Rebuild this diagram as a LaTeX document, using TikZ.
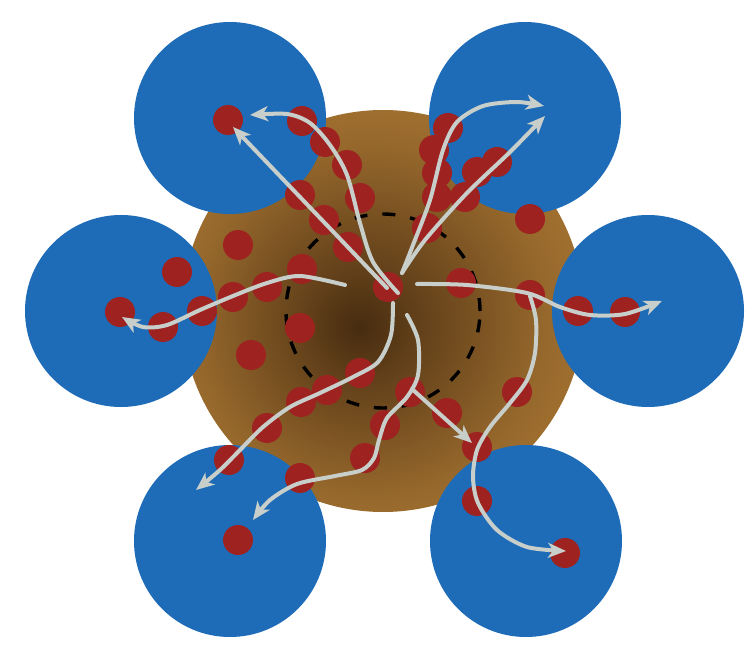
\documentclass[tikz,border=0pt]{standalone}
\usepackage{tikz}
\usetikzlibrary{arrows.meta}
\definecolor{poreblue}{RGB}{30,108,183}
\definecolor{ionred}{RGB}{158,34,32}
\definecolor{flowgray}{RGB}{200,206,202}
\definecolor{coredark}{RGB}{70,44,16}
\definecolor{coredeep}{RGB}{102,67,27}
\definecolor{coremid}{RGB}{150,104,44}
\definecolor{corelight}{RGB}{184,130,54}
\definecolor{coreedge}{RGB}{196,139,58}
\pgfdeclareradialshading{coreglow}{\pgfpoint{-3bp}{-2bp}}{color(0bp)=(coredark); color(8bp)=(coredeep); color(22bp)=(coremid); color(38bp)=(corelight); color(50bp)=(coreedge)}

\begin{document}
\begin{tikzpicture}[x=1pt,y=-1pt,
    pore/.style={fill=poreblue},
    ion/.style={fill=ionred},
    flow/.style={draw=flowgray,line width=4pt,line cap=round,-{Stealth[length=18pt,width=15pt,inset=5pt]}}]
    \path[use as bounding box,fill=white] (0,0) rectangle (747,647);

    % Core
    \shade[shading=coreglow] (383,311) circle [radius=201pt];

    % Pores around the core
    \fill[pore] (230,118) circle [radius=96pt];
    \fill[pore] (525,118) circle [radius=96pt];
    \fill[pore] (121,311) circle [radius=96pt];
    \fill[pore] (648,311) circle [radius=96pt];
    \fill[pore] (230,541) circle [radius=96pt];
    \fill[pore] (526,541) circle [radius=96pt];

    % Inner zone
    \draw[black,line width=3.4pt,dash pattern=on 13pt off 15pt] (383,311) circle [radius=97pt];

    % Ions (top-left, centre, left)
    \foreach \x/\y in {228/120, 302/121, 325/142, 347/165, 360/198, 300/195, 324/220, 348/247,
                       238/245, 302/269, 388/287,
                       177/272, 120/312, 163/327, 202/311, 233/297, 267/287, 300/328, 251/355}
        \fill[ion] (\x,\y) circle [radius=15pt];
    % Ions (bottom)
    \foreach \x/\y in {360/373, 327/390, 301/402, 267/428, 229/460, 300/478, 238/540,
                       410/392, 385/425, 365/458, 447/413, 477/447, 517/392, 477/501, 565/553}
        \fill[ion] (\x,\y) circle [radius=15pt];
    % Ions (right, top-right)
    \foreach \x/\y in {461/283, 530/295, 578/311, 625/312, 530/219,
                       448/128, 434/150, 437/173, 437/197, 465/197, 477/172, 497/162, 427/228}
        \fill[ion] (\x,\y) circle [radius=15pt];

    % Paths out of the core
    \draw[flow] (387,288) -- (233,127);
    \draw[flow] plot[smooth] coordinates {(398,293) (373,262) (360,223) (347,175) (330,145) (310,123) (287,114) (250,115)};
    \draw[flow] plot[smooth] coordinates {(402,273) (413,245) (430,200) (443,150) (457,122) (483,106) (517,102) (544,106)};
    \draw[flow] plot[smooth] coordinates {(402,273) (425,240) (467,193) (510,152) (545,116)};
    \draw[flow] plot[smooth] coordinates {(345,285) (300,276) (267,283) (233,296) (200,310) (167,325) (143,327) (122,317)};
    \draw[flow] plot[smooth] coordinates {(417,284) (467,285) (527,293) (560,307) (590,315) (625,314) (662,301)};
    \draw[flow] plot[smooth] coordinates {(530,296) (536,320) (535,353) (527,380) (510,403) (490,427) (477,450) (473,477) (478,503) (497,530) (527,547) (566,551)};
    \draw[flow] plot[smooth] coordinates {(407,315) (418,340) (418,375) (407,397) (387,418) (379,440) (374,458) (362,470) (335,476) (297,484) (270,500) (253,520)};
    \draw[flow] (412,389) -- (472,443);
    \draw[flow] plot[smooth] coordinates {(393,303) (391,335) (378,362) (353,377) (320,393) (290,407) (263,427) (240,450) (220,470) (196,490)};

\end{tikzpicture}
\end{document}
